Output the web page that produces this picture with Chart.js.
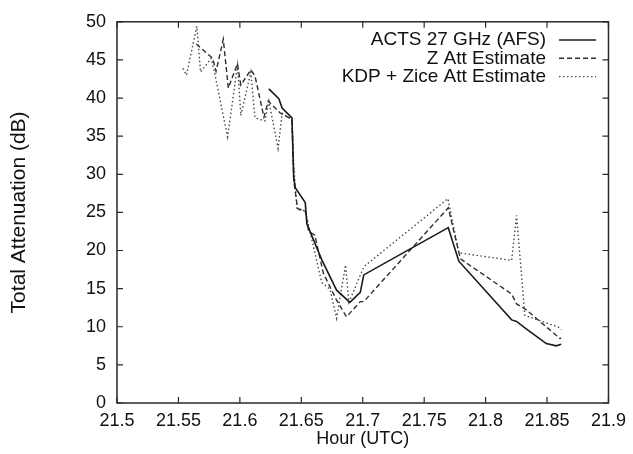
<!DOCTYPE html>
<html>
<head>
<meta charset="utf-8">
<script src="https://cdn.jsdelivr.net/npm/chart.js@4/dist/chart.umd.min.js"></script>
<style>
  html, body { margin: 0; padding: 0; background: #fff; }
  #wrap { width: 633px; height: 454px; }
</style>
</head>
<body>
<div id="wrap"><canvas id="attChart" width="633" height="454"></canvas></div>
<script>
// ACTS 27 GHz beacon measurement (solid)
const actsHours = [21.6236, 21.6317, 21.6344, 21.6424, 21.6438, 21.6452, 21.6532, 21.6545, 21.6666, 21.6787, 21.6895, 21.698, 21.7008, 21.7696, 21.7782, 21.8212, 21.8252, 21.8325, 21.8494, 21.8575, 21.8615];
const actsDb    = [41.2, 39.9, 38.7, 37.4, 29.5, 28.2, 26.3, 23.5, 18.8, 14.8, 13.2, 14.5, 16.8, 23.0, 18.6, 10.9, 10.7, 9.8, 7.8, 7.5, 7.7];

// Z attenuation estimate (dashed)
const zHours = [21.5645, 21.5779, 21.5806, 21.5865, 21.5906, 21.598, 21.6008, 21.6089, 21.6123, 21.6196, 21.6231, 21.633, 21.6424, 21.644, 21.647, 21.6532, 21.656, 21.661, 21.668, 21.6787, 21.6868, 21.698, 21.7008, 21.7696, 21.7795, 21.8212, 21.8252, 21.8325, 21.8602, 21.8615];
const zDb    = [47.1, 45.2, 43.5, 47.7, 41.3, 44.5, 41.7, 43.7, 42.9, 37.5, 39.6, 38.0, 37.2, 29.0, 25.5, 25.2, 22.5, 22.0, 17.0, 13.5, 11.3, 13.3, 13.3, 25.6, 18.9, 14.3, 13.0, 12.3, 8.5, 8.5];

// KDP + Zice attenuation estimate (dotted)
const kdpHours = [21.5537, 21.5565, 21.565, 21.568, 21.5766, 21.5793, 21.59, 21.5981, 21.6008, 21.6089, 21.6123, 21.6204, 21.6236, 21.6311, 21.6344, 21.6424, 21.6438, 21.6465, 21.6532, 21.6666, 21.6734, 21.6787, 21.686, 21.6887, 21.701, 21.7693, 21.7782, 21.8212, 21.8252, 21.8319, 21.8548, 21.8589, 21.8615];
const kdpDb    = [43.9, 43.0, 49.4, 43.4, 45.2, 43.4, 34.9, 44.3, 37.7, 43.4, 37.4, 37.0, 39.6, 33.4, 38.0, 37.2, 31.2, 25.4, 25.2, 15.8, 14.9, 11.1, 18.1, 13.2, 17.9, 26.8, 19.7, 18.7, 24.6, 11.5, 10.2, 10.0, 9.6];

const xTicks = [21.5, 21.55, 21.6, 21.65, 21.7, 21.75, 21.8, 21.85, 21.9];
const yTicks = [0, 5, 10, 15, 20, 25, 30, 35, 40, 45, 50];

function pts(xs, ys) {
    return xs.map((x, i) => ({ x: x, y: ys[i] }));
}

const FONT = "'Liberation Sans', Arial, Helvetica, sans-serif";

// frame, inward ticks on all four sides, and the boxed-in legend
const framePlugin = {
    id: 'frame',
    afterDraw(chart) {
        const ctx = chart.ctx;
        const a = chart.chartArea;
        const xs = chart.scales.x, ys = chart.scales.y;
        ctx.save();
        ctx.strokeStyle = '#2a2a2a';
        ctx.lineWidth = 1.5;
        ctx.strokeRect(a.left, a.top, a.right - a.left, a.bottom - a.top);
        ctx.lineWidth = 1.2;
        ctx.beginPath();
        xTicks.forEach(t => {
            const px = xs.getPixelForValue(t);
            ctx.moveTo(px, a.bottom); ctx.lineTo(px, a.bottom - 6);
            ctx.moveTo(px, a.top); ctx.lineTo(px, a.top + 6);
        });
        yTicks.forEach(t => {
            const py = ys.getPixelForValue(t);
            ctx.moveTo(a.left, py); ctx.lineTo(a.left + 6, py);
            ctx.moveTo(a.right, py); ctx.lineTo(a.right - 6, py);
        });
        ctx.stroke();

        // legend: right-aligned labels with a line sample on the right
        ctx.font = '19px ' + FONT;
        ctx.textAlign = 'right';
        ctx.textBaseline = 'middle';
        ctx.fillStyle = '#111';
        chart.data.datasets.forEach((ds, i) => {
            const y = 40 + i * 18.3;
            ctx.fillText(ds.label, 546, y);
            ctx.strokeStyle = ds.borderColor;
            ctx.lineWidth = ds.borderWidth;
            ctx.setLineDash(ds.borderDash || []);
            ctx.beginPath();
            ctx.moveTo(559, y);
            ctx.lineTo(596, y);
            ctx.stroke();
        });
        ctx.restore();
    }
};

const ctx = document.getElementById('attChart').getContext('2d');
const attChart = new Chart(ctx, {
    type: 'scatter',
    data: {
        datasets: [{
            label: 'ACTS 27 GHz (AFS)',
            data: pts(actsHours, actsDb),
            showLine: true,
            borderColor: '#1a1a1a',
            borderWidth: 1.6,
            pointRadius: 0,
            tension: 0
        }, {
            label: 'Z Att Estimate',
            data: pts(zHours, zDb),
            showLine: true,
            borderColor: '#2e2e2e',
            borderWidth: 1.4,
            borderDash: [5, 3],
            pointRadius: 0,
            tension: 0
        }, {
            label: 'KDP + Zice Att Estimate',
            data: pts(kdpHours, kdpDb),
            showLine: true,
            borderColor: '#4a4a4a',
            borderWidth: 1.4,
            borderDash: [1.5, 2.5],
            pointRadius: 0,
            tension: 0
        }]
    },
    options: {
        responsive: false,
        animation: false,
        devicePixelRatio: 1,
        layout: { padding: { top: 14, right: 20, left: 0, bottom: 0 } },
        plugins: {
            legend: { display: false },
            tooltip: { enabled: false }
        },
        scales: {
            x: {
                type: 'linear',
                min: 21.5,
                max: 21.9,
                afterFit: s => { s.height = 51; },
                afterBuildTicks: s => { s.ticks = xTicks.map(v => ({ value: v })); },
                grid: { display: false, drawTicks: false },
                border: { display: false },
                ticks: {
                    color: '#111',
                    padding: 7,
                    maxRotation: 0,
                    autoSkip: false,
                    font: { family: FONT, size: 18 },
                    callback: v => String(Number(v.toFixed(2)))
                },
                title: {
                    display: true,
                    text: 'Hour (UTC)',
                    color: '#111',
                    padding: { top: 0, bottom: 4 },
                    font: { family: FONT, size: 18 }
                }
            },
            y: {
                min: 0,
                max: 50,
                afterFit: s => { s.width = 117; },
                afterBuildTicks: s => { s.ticks = yTicks.map(v => ({ value: v })); },
                grid: { display: false, drawTicks: false },
                border: { display: false },
                ticks: {
                    color: '#111',
                    padding: 11,
                    autoSkip: false,
                    font: { family: FONT, size: 18 }
                },
                title: {
                    display: true,
                    text: 'Total Attenuation (dB)',
                    color: '#111',
                    padding: { top: 7, bottom: 0 },
                    font: { family: FONT, size: 21 }
                }
            }
        }
    },
    plugins: [framePlugin]
});
</script>
</body>
</html>
